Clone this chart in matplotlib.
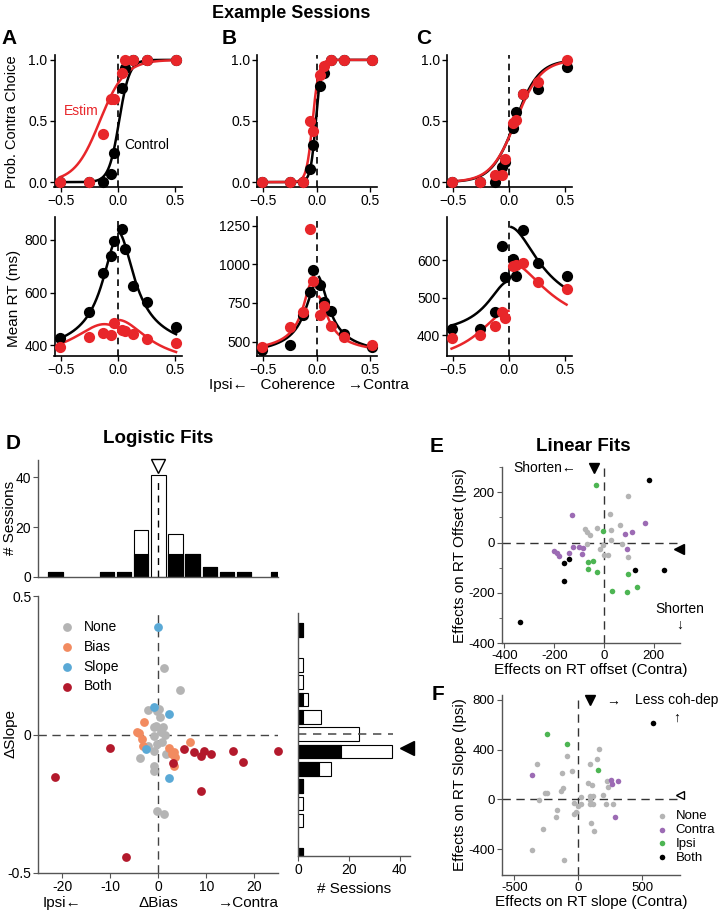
import numpy as np
import matplotlib
matplotlib.use('Agg')
import matplotlib.pyplot as plt

plt.rcParams['font.family'] = ['Liberation Sans', 'DejaVu Sans']
plt.rcParams['axes.unicode_minus'] = False

# ---------------- data ----------------
coh = [-0.512, -0.256, -0.128, -0.064, -0.032, 0.032, 0.064, 0.128, 0.256, 0.512]

pA_ctrl = [0, 0, 0.00, 0.07, 0.24, 0.77, 0.93, 1, 1, 1]
pA_stim = [0, 0, 0.39, 0.68, 0.68, 0.89, 1.0, 1.0, 1.0, 1.0]
pB_ctrl = [0, 0, 0, 0.11, 0.30, 0.785, 0.895, 1, 1, 1]
pB_stim = [0, 0, 0, 0.50, 0.42, 0.88, 0.95, 1, 1, 1]
pC_ctrl = [0, 0, 0.00, 0.12, 0.165, 0.44, 0.57, 0.72, 0.76, 0.94]
pC_stim = [0, 0, 0.055, 0.055, 0.19, 0.48, 0.51, 0.72, 0.82, 1.0]

rtA_ctrl = [427, 525, 676, 739, 795, 840, 765, 625, 566, 468]
rtA_stim = [395, 430, 445, 437, 486, 456, 455, 443, 424, 410]
rtB_ctrl = [443, 478, 672, 822, 965, 866, 757, 697, 548, 465]
rtB_stim = [465, 592, 691, 1232, 895, 675, 730, 603, 531, 478]
rtC_ctrl = [415, 415, 461, 638, 556, 604, 557, 682, 593, 559]
rtC_stim = [391, 399, 424, 461, 446, 584, 587, 593, 541, 524]

# logistic fit parameters (bias, slope) for panels A, B, C
fit_bias_ctrl = [0.01, -0.01, 0.055]
fit_slope_ctrl = [22, 40, 9.5]
fit_bias_stim = [-0.16, -0.04, 0.06]
fit_slope_stim = [9, 35, 9]

# RT fit parameters (tnd, B^2, u, c0) per panel: [ipsi branch, contra branch]
rt_fit_ctrl = [[(330, 480, 9.8, 0.0), (340, 490, 9.4, 0.0)],
               [(380, 500, 12.4, 0.0), (380, 550, 12.6, 0.0)],
               [(380, 164, 7.0, 0.0), (420, 270, 5.0, 0.0)]]
rt_fit_stim = [[(330, 150, 4.9, -0.12), (300, 196, 5.1, 0.0)],
               [(400, 490, 14.7, -0.04), (400, 400, 13.4, 0.0)],
               [(300, 165, 5.0, 0.0), (380, 215, 4.0, 0.0)]]

# D histograms
bias_bin_idx = [-6, -3, -2, -1, 0, 1, 2, 3, 4, 5, 7]
bias_total = [2, 2, 2, 19, 41, 17, 9, 4, 2, 2, 2]
bias_sig = [2, 2, 2, 9, 0, 9, 9, 4, 2, 2, 2]
slope_bin_idx = [6, 4, 3, 2, 1, 0, -1, -2, -3, -4, -5, -7]
slope_total = [2, 2, 2, 4, 9, 24, 37, 13, 2, 2, 2, 2]
slope_sig = [2, 0, 0, 2, 2, 0, 17, 8, 2, 0, 0, 2]

# D scatter
none_dx = [1.2, 4.5, -2.2, 0.2, 0.35, -1.0, 1.0, -0.9, 1.4, -0.35, 0.7, -2.1, -1.0, 1.5, -3.8, -0.8, -1.0, -0.35, 1.25, -0.3, 0.5, -0.5]
none_dy = [0.24, 0.16, 0.087, 0.093, 0.063, 0.027, 0.027, -0.004, 0.0, -0.034, -0.028, -0.04, -0.058, -0.072, -0.085, -0.112, -0.13, -0.275, -0.287, 0.084, 0.01, 0.03]
bias_dx = [-2.9, -4.4, -4.0, -3.5, -3.1, 6.6, 2.3, 3.3, 3.5, 3.3, 2.8]
bias_dy = [0.045, 0.008, 0.005, -0.016, -0.04, -0.028, -0.048, -0.064, -0.082, -0.112, -0.07]
slope_dx = [0, -0.8, 2.2, -2.6, 2.2]
slope_dy = [0.389, 0.101, 0.075, -0.054, -0.157]
both_dx = [-21.5, -10.1, -6.7, 3.0, 5.4, 7.4, 8.9, 9.6, 11.0, 8.9, 15.6, 17.6, 25.0]
both_dy = [-0.155, -0.048, -0.441, -0.104, -0.052, -0.064, -0.076, -0.06, -0.07, -0.205, -0.058, -0.098, -0.058]
bias_median = 0.0
slope_mean = -0.052

# E scatter (offset effects)
e_none_x = [97, 24, -27, -76, -69, -56, 28, 64, 28, -16, -3, -67, 17, 1, 73, 95]
e_none_y = [187, 113, 60, 56, 43, 29, 51, 71, 11, -27, -11, -7, -49, -49, -7, -56]
e_con_x = [-127, -200, -189, -180, -140, -123, -99, -83, -89, 84, 111, 164, 93]
e_con_y = [111, -33, -43, -53, -40, -16, -16, -20, -47, 33, 44, 77, -24]
e_ips_x = [-32, -3, -63, -45, -63, -27, 33, 93, 97, 131]
e_ips_y = [229, 47, -77, -75, -104, -116, -193, -197, -127, -177]
e_both_x = [181, -160, -139, -159, 124, 240, -336]
e_both_y = [251, -80, -67, -151, -109, -109, -316]
e_mean_x = -40
e_mean_y = -24

# F scatter (slope effects)
f_none_x = [-326, -86, -52, -130, -117, -138, -260, -247, -305, -169, -177, -279, -365, -109, -31, -18, -34, 18, 21, 0, 91, 112, 91, 91, 104, 73, 91, 143, 161, 117, 195, 221, 234, 216, 273, 99, 122]
f_none_y = [287, 349, 228, 212, 91, 67, 51, 51, -8, -83, -137, -236, -403, -486, -27, -102, -115, 24, -35, -54, -3, 32, 32, -40, 118, 131, 282, 325, 403, -35, 40, 148, 99, -40, -35, -191, -250]
f_con_x = [-365, 255, 260, 312, 286]
f_con_y = [193, 153, 126, 145, -137]
f_ips_x = [-247, -86, 151]
f_ips_y = [529, 443, 239]
f_both_x = [581]
f_both_y = [618]
f_mean_x = 91
f_mean_y = 40

RED = '#e8262a'
C_NONE = '#b4b4b4'
C_BIAS = '#f28b60'
C_SLOPE = '#5aa9d6'
C_BOTH = '#b3192c'
C_PURPLE = '#9c6bb4'
C_GREEN = '#4db553'
GRAY_SP = '#555555'

W, H = 718, 911
fig = plt.figure(figsize=(W / 100, H / 100), dpi=100)


def ax_px(l, t, r, b):
    return fig.add_axes([l / W, 1 - b / H, (r - l) / W, (b - t) / H])


def style(ax, color='black', lw=1.2, fs=10):
    for s in ['top', 'right']:
        ax.spines[s].set_visible(False)
    for s in ['left', 'bottom']:
        ax.spines[s].set_color(color)
        ax.spines[s].set_linewidth(lw)
    ax.tick_params(direction='out', length=3.5, width=lw * 0.8, color=color,
                   labelsize=fs, pad=1.5)


def logistic(c, b, k):
    return 1.0 / (1.0 + np.exp(-k * (c - b)))


def rt_branch(c, p):
    tnd, b2, u, c0 = p
    x = u * np.abs(c - c0)
    f = np.where(x < 1e-9, 1.0, np.tanh(x) / np.maximum(x, 1e-9))
    return tnd + b2 * f


# ---------------- Panels A-C ----------------
colsx = [(54.5, 181.5), (257.3, 376.7), (447.3, 571.7)]
xlims = [(-0.56, 0.56), (-0.558, 0.56), (-0.55, 0.558)]
p_ctrl = [pA_ctrl, pB_ctrl, pC_ctrl]
p_stim = [pA_stim, pB_stim, pC_stim]
rt_ctrl = [rtA_ctrl, rtB_ctrl, rtC_ctrl]
rt_stim = [rtA_stim, rtB_stim, rtC_stim]
rt_ylims = [(359, 887), (406, 1308), (344, 716)]
rt_yticks = [[400, 600, 800], [500, 750, 1000, 1250], [400, 500, 600]]

cc = np.linspace(-0.512, 0.512, 400)
cl = np.linspace(-0.512, -0.005, 200)
cr = np.linspace(0.02, 0.512, 200)
xt = [-0.5, 0.0, 0.5]
xtl = ['\u22120.5', '0.0', '0.5']

for i in range(3):
    l, r = colsx[i]
    ax = ax_px(l, 55, r, 187)
    style(ax)
    ax.set_xlim(*xlims[i])
    ax.set_ylim(-0.04, 1.04)
    ax.axvline(0, color='black', lw=1.2, ls=(0, (4, 3)), zorder=1)
    ax.plot(cc, logistic(cc, fit_bias_ctrl[i], fit_slope_ctrl[i]), color='black', lw=1.8, zorder=2)
    ax.plot(cc, logistic(cc, fit_bias_stim[i], fit_slope_stim[i]), color=RED, lw=1.8, zorder=3)
    ax.scatter(coh, p_ctrl[i], s=65, color='black', zorder=4, clip_on=False, linewidths=0)
    ax.scatter(coh, p_stim[i], s=65, color=RED, zorder=5, clip_on=False, linewidths=0)
    ax.set_xticks(xt)
    ax.set_xticklabels(xtl)
    ax.set_yticks([0, 0.5, 1.0])
    ax.set_yticklabels(['0.0', '0.5', '1.0'])
    if i == 0:
        ax.text(-0.475, 0.58, 'Estim', color=RED, fontsize=10, va='center', ha='left')
        ax.text(0.053, 0.30, 'Control', color='black', fontsize=10, va='center', ha='left')

    ax2 = ax_px(l, 217, r, 356)
    style(ax2)
    ax2.set_xlim(*xlims[i])
    ax2.set_ylim(*rt_ylims[i])
    ax2.axvline(0, color='black', lw=1.2, ls=(0, (4, 3)), zorder=1)
    ax2.plot(cl, rt_branch(cl, rt_fit_ctrl[i][0]), color='black', lw=1.8, zorder=2)
    ax2.plot(cr, rt_branch(cr, rt_fit_ctrl[i][1]), color='black', lw=1.8, zorder=2)
    ax2.plot(cl, rt_branch(cl, rt_fit_stim[i][0]), color=RED, lw=1.8, zorder=3)
    ax2.plot(cr, rt_branch(cr, rt_fit_stim[i][1]), color=RED, lw=1.8, zorder=3)
    ax2.scatter(coh, rt_ctrl[i], s=65, color='black', zorder=4, clip_on=False, linewidths=0)
    ax2.scatter(coh, rt_stim[i], s=65, color=RED, zorder=5, clip_on=False, linewidths=0)
    ax2.set_xticks(xt)
    ax2.set_xticklabels(xtl)
    ax2.set_yticks(rt_yticks[i])

fig.text(291 / W, 1 - 13 / H, 'Example Sessions', ha='center', va='center',
         fontsize=13, fontweight='bold')
for lab, x in zip(['A', 'B', 'C'], [9, 229, 424]):
    fig.text(x / W, 1 - 39 / H, lab, ha='center', va='center', fontsize=15, fontweight='bold')
fig.text(12 / W, 1 - 122 / H, 'Prob. Contra Choice', rotation=90, ha='center', va='center', fontsize=10.5)
fig.text(14 / W, 1 - 298 / H, 'Mean RT (ms)', rotation=90, ha='center', va='center', fontsize=11)
fig.text(309 / W, 1 - 385 / H, 'Ipsi\u2190   Coherence   \u2192Contra', ha='center', va='center', fontsize=11)

# ---------------- Panel D ----------------
bw = 50.0 / 14.0
axh = ax_px(38.3, 460, 278.3, 576.7)
style(axh, color=GRAY_SP, lw=1.0, fs=10)
axh.set_xlim(-25, 25)
axh.set_ylim(0, 47)
bc = np.array(bias_bin_idx) * bw
bt = np.array(bias_total)
bs = np.array(bias_sig)
axh.bar(bc, bt, width=3.0, color='white', edgecolor='black', lw=0.8)
m = bs > 0
axh.bar(bc[m], bs[m], width=3.0, color='black', edgecolor='black', lw=0.8)
axh.vlines(bias_median, 0, bt[bc == 0][0] - 1, colors='black', lw=1.0, linestyles=(0, (5, 4)))
axh.plot([bias_median], [44.5], marker='v', ms=10, mfc='white', mec='black', mew=1.0, clip_on=False)
axh.set_xticks([])
axh.set_yticks([0, 20, 40])
axh.set_title('Logistic Fits', fontsize=13.5, fontweight='bold', pad=12)
fig.text(10 / W, 1 - 518 / H, '# Sessions', rotation=90, ha='center', va='center', fontsize=11)

axs = ax_px(38.3, 596, 278.3, 873)
style(axs, color=GRAY_SP, lw=1.0, fs=10)
axs.set_xlim(-25, 25)
axs.set_ylim(-0.5, 0.5)
axs.axhline(0, color='#444444', lw=1.0, ls=(0, (6, 4)), zorder=1)
axs.vlines(0, -0.5, 0.44, colors='#444444', lw=1.0, linestyles=(0, (6, 4)), zorder=1)
axs.scatter(none_dx, none_dy, s=40, color=C_NONE, linewidths=0, label='None', zorder=2, clip_on=False)
axs.scatter(bias_dx, bias_dy, s=40, color=C_BIAS, linewidths=0, label='Bias', zorder=3, clip_on=False)
axs.scatter(slope_dx, slope_dy, s=40, color=C_SLOPE, linewidths=0, label='Slope', zorder=4, clip_on=False)
axs.scatter(both_dx, both_dy, s=40, color=C_BOTH, linewidths=0, label='Both', zorder=5, clip_on=False)
axs.set_xticks([-20, -10, 0, 10, 20])
axs.set_yticks([-0.5, 0, 0.5])
axs.set_yticklabels(['-0.5', '0', '0.5'])
fig.text(10 / W, 1 - 733 / H, '\u0394Slope', rotation=90, ha='center', va='center', fontsize=11)
axs.legend(loc='upper left', bbox_to_anchor=(60 / W, 1 - 620 / H), bbox_transform=fig.transFigure,
           frameon=False, fontsize=10, handlelength=1.0, handletextpad=0.7, labelspacing=0.42,
           borderpad=0, borderaxespad=0)
axs.text(-20, -0.607, 'Ipsi\u2190', ha='center', va='center', fontsize=11)
axs.text(0, -0.607, '\u0394Bias', ha='center', va='center', fontsize=11)
axs.text(18.7, -0.607, '\u2192Contra', ha='center', va='center', fontsize=11)

axr = ax_px(298.3, 613.3, 410, 855.7)
style(axr, color=GRAY_SP, lw=1.0, fs=10)
axr.set_xlim(0, 44)
axr.set_ylim(-0.439, 0.436)
sc = np.array(slope_bin_idx) * 0.0625
st = np.array(slope_total)
ss = np.array(slope_sig)
axr.barh(sc, st, height=0.049, color='white', edgecolor='black', lw=0.8)
m = ss > 0
axr.barh(sc[m], ss[m], height=0.049, color='black', edgecolor='black', lw=0.8)
axr.hlines(0, 0, 37.5, colors='#555555', lw=1.2, linestyles=(0, (5, 4)))
axr.plot([43], [slope_mean], marker='<', ms=10, color='black', clip_on=False)
axr.set_yticks([])
axr.set_xticks([0, 20, 40])
axr.set_xlabel('# Sessions', fontsize=11, labelpad=4)

fig.text(13 / W, 1 - 444 / H, 'D', ha='center', va='center', fontsize=15, fontweight='bold')

# ---------------- Panel E ----------------
axe = ax_px(501.7, 467.3, 680, 643)
style(axe, color=GRAY_SP, lw=1.0, fs=9.5)
axe.set_xlim(-411, 305)
axe.set_ylim(-400, 300)
axe.axhline(0, color='#333333', lw=1.0, ls=(0, (6, 4)), zorder=1)
axe.axvline(0, color='#333333', lw=1.0, ls=(0, (6, 4)), zorder=1)
for xs, ys, c in [(e_none_x, e_none_y, C_NONE), (e_con_x, e_con_y, C_PURPLE),
                  (e_ips_x, e_ips_y, C_GREEN), (e_both_x, e_both_y, 'black')]:
    axe.scatter(xs, ys, s=16, color=c, linewidths=0, zorder=3, clip_on=False)
axe.plot([e_mean_x], [297], marker='v', ms=7, color='black', clip_on=False)
axe.plot([301], [e_mean_y], marker='<', ms=7, color='black', clip_on=False)
axe.set_xticks([-400, -200, 0, 200])
axe.set_yticks([-400, -200, 0, 200])
axe.set_yticks([-300, -100, 100, 300], minor=True)
axe.tick_params(which='minor', length=2, color=GRAY_SP)
axe.text(-365, 297, 'Shorten\u2190', ha='left', va='center', fontsize=10)
axe.text(304, -263, 'Shorten', ha='center', va='center', fontsize=10, clip_on=False)
axe.text(304, -328, '\u2193', ha='center', va='center', fontsize=10, clip_on=False)
axe.set_xlabel('Effects on RT offset (Contra)', fontsize=11, labelpad=1)
axe.set_ylabel('Effects on RT Offset (Ipsi)', fontsize=11, labelpad=1)
axe.set_title('Linear Fits', fontsize=13.5, fontweight='bold', pad=12, x=0.46)
fig.text(437 / W, 1 - 447 / H, 'E', ha='center', va='center', fontsize=15, fontweight='bold')

# ---------------- Panel F ----------------
axf = ax_px(501.7, 695, 680, 875)
style(axf, color=GRAY_SP, lw=1.0, fs=9.5)
axf.set_xlim(-600, 795)
axf.set_ylim(-607, 840)
axf.axhline(0, color='#333333', lw=1.0, ls=(0, (6, 4)), zorder=1)
axf.axvline(0, color='#333333', lw=1.0, ls=(0, (6, 4)), zorder=1)
for xs, ys, c, lab in [(f_none_x, f_none_y, C_NONE, 'None'), (f_con_x, f_con_y, C_PURPLE, 'Contra'),
                       (f_ips_x, f_ips_y, C_GREEN, 'Ipsi'), (f_both_x, f_both_y, 'black', 'Both')]:
    axf.scatter(xs, ys, s=16, color=c, linewidths=0, zorder=3, clip_on=False, label=lab)
axf.plot([f_mean_x], [797], marker='v', ms=7, color='black', clip_on=False)
axf.plot([794], [f_mean_y], marker='<', ms=6, mfc='white', mec='black', mew=1.0, clip_on=False)
axf.text(273, 797, '\u2192', ha='center', va='center', fontsize=10)
axf.text(443, 797, 'Less coh-dep', ha='left', va='center', fontsize=10, clip_on=False)
axf.text(768, 655, '\u2191', ha='center', va='center', fontsize=10, clip_on=False)
axf.set_xticks([-500, 0, 500])
axf.set_yticks([-400, 0, 400, 800])
axf.set_xlabel('Effects on RT slope (Contra)', fontsize=11, labelpad=1)
axf.set_ylabel('Effects on RT Slope (Ipsi)', fontsize=11, labelpad=1)
axf.legend(loc='upper left', bbox_to_anchor=(657 / W, 1 - 810 / H), bbox_transform=fig.transFigure,
           frameon=False, fontsize=9.5, handlelength=0.8, handletextpad=0.6, labelspacing=0.12,
           borderpad=0, borderaxespad=0)
fig.text(438 / W, 1 - 695 / H, 'F', ha='center', va='center', fontsize=15, fontweight='bold')

fig.savefig('out.png', dpi=100)
